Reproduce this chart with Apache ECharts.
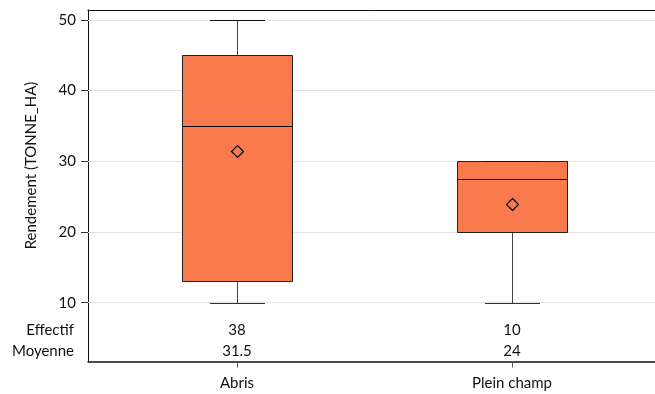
<!DOCTYPE html>
<html>
<head>
<meta charset="utf-8">
<script src="https://cdn.jsdelivr.net/npm/echarts@6/dist/echarts.min.js"></script>
<style>
  html, body { margin: 0; padding: 0; background: #fff; }
  #chart { width: 655px; height: 394px; }
</style>
</head>
<body>
<div id="chart"></div>
<script>
// groups and their summary stats
var categories = ['Abris', 'Plein champ'];
var mins = [10, 10];
var q1s = [13, 20];
var medians = [35, 27.5];
var q3s = [45, 30];
var maxs = [50, 30];
var means = [31.5, 24];
var counts = [38, 10];
var yTicks = [10, 20, 30, 40, 50];
var rowLabels = ['Effectif', 'Moyenne'];

var FONT = 'Lato';
var BOX = '#f97a4d';

var boxData = categories.map(function(c, i) {
	return [i, mins[i], q1s[i], medians[i], q3s[i], maxs[i], means[i]];
});
var tableData = categories.map(function(c, i) {
	return [i, counts[i], means[i]];
});

// snap to pixel centre so 1px strokes stay crisp
function px(v) { return Math.round(v) + 0.5; }

function renderBox(params, api) {
	var x = px(api.coord([api.value(0), 0])[0]);
	var y = function(dim) { return px(api.coord([0, api.value(dim)])[1]); };
	var yMin = y(1), yQ1 = y(2), yMed = y(3), yQ3 = y(4), yMax = y(5), yMean = y(6);
	var hw = 55, cw = 27.5, d = 6;
	return {
		type: 'group',
		children: [
			{ type: 'line', shape: { x1: x, y1: yQ1, x2: x, y2: yMin }, style: { stroke: '#444', lineWidth: 1 } },
			{ type: 'line', shape: { x1: x, y1: yQ3, x2: x, y2: yMax }, style: { stroke: '#444', lineWidth: 1 } },
			{ type: 'line', shape: { x1: x - cw, y1: yMin, x2: x + cw, y2: yMin }, style: { stroke: '#333', lineWidth: 1 } },
			{ type: 'rect', shape: { x: x - hw, y: yQ3, width: hw * 2, height: yQ1 - yQ3 }, style: { fill: BOX, stroke: '#222', lineWidth: 1 } },
			{ type: 'line', shape: { x1: x - cw, y1: yMax, x2: x + cw, y2: yMax }, style: { stroke: '#111', lineWidth: 1 } },
			{ type: 'line', shape: { x1: x - hw, y1: yMed, x2: x + hw, y2: yMed }, style: { stroke: '#000', lineWidth: 1 } },
			{ type: 'polygon', shape: { points: [[x, yMean - d], [x + d, yMean], [x, yMean + d], [x - d, yMean]] }, style: { fill: 'none', stroke: '#000', lineWidth: 1.2 } }
		]
	};
}

function renderTable(params, api) {
	var x = api.coord([api.value(0), 0])[0];
	var base = api.coord([0, yTicks[0]])[1];
	return {
		type: 'group',
		children: [
			{ type: 'text', style: { x: x, y: base + 27, text: String(api.value(1)), align: 'center', verticalAlign: 'middle', font: '15px ' + FONT, fill: '#111' } },
			{ type: 'text', style: { x: x, y: base + 48, text: String(api.value(2)), align: 'center', verticalAlign: 'middle', font: '15px ' + FONT, fill: '#111' } }
		]
	};
}

var chart = echarts.init(document.getElementById('chart'), null, { renderer: 'canvas' });

chart.setOption({
	animation: false,
	backgroundColor: '#fff',
	textStyle: { fontFamily: FONT },
	grid: { left: 88, right: 0, top: 10, bottom: 32.5, containLabel: false },
	xAxis: [
		{
			type: 'value',
			min: -0.5418,
			max: 1.52,
			axisLine: { show: true, lineStyle: { color: '#111', width: 1.5 } },
			axisTick: { show: true, length: 6, inside: false, customValues: [0, 1], lineStyle: { color: '#555' } },
			axisLabel: {
				show: true, customValues: [0, 1], margin: 14,
				fontSize: 15, color: '#111', fontFamily: FONT,
				formatter: function(v) { return categories[Math.round(v)] || ''; }
			},
			splitLine: { show: false }
		},
		{
			type: 'value',
			position: 'top',
			min: -0.5418,
			max: 1.52,
			axisLine: { show: true, onZero: false, lineStyle: { color: '#111', width: 1 } },
			axisTick: { show: false },
			axisLabel: { show: false },
			splitLine: { show: false }
		}
	],
	yAxis: {
		type: 'value',
		min: 1.68,
		max: 51.41,
		axisLine: { show: true, onZero: false, lineStyle: { color: '#111', width: 1 } },
		axisTick: { show: true, length: 7, customValues: yTicks, lineStyle: { color: '#333' } },
		axisLabel: { show: true, customValues: yTicks, margin: 12, fontSize: 15, color: '#111', fontFamily: FONT },
		splitLine: { show: false }
	},
	graphic: [
		{
			type: 'text', x: 31, y: 165.5, rotation: Math.PI / 2,
			style: { x: 0, y: 0, text: 'Rendement (TONNE_HA)', align: 'center', verticalAlign: 'middle', font: '15px ' + FONT, fill: '#111' }
		},
		{ type: 'text', style: { x: 74, y: 330, text: rowLabels[0], align: 'right', verticalAlign: 'middle', font: '15px ' + FONT, fill: '#111' } },
		{ type: 'text', style: { x: 74, y: 351, text: rowLabels[1], align: 'right', verticalAlign: 'middle', font: '15px ' + FONT, fill: '#111' } }
	],
	series: [
		{
			type: 'line',
			data: [],
			z: 1,
			silent: true,
			markLine: {
				silent: true,
				z: 1,
				symbol: ['none', 'none'],
				label: { show: false },
				lineStyle: { color: '#dbe5e4', width: 1, type: 'solid' },
				data: yTicks.map(function(v) { return { yAxis: v }; })
			}
		},
		{
			type: 'custom',
			z: 3,
			renderItem: renderBox,
			encode: { x: 0, y: [1, 2, 3, 4, 5, 6] },
			data: boxData
		},
		{
			type: 'custom',
			z: 3,
			renderItem: renderTable,
			encode: { x: 0 },
			data: tableData
		}
	]
});
</script>
</body>
</html>
